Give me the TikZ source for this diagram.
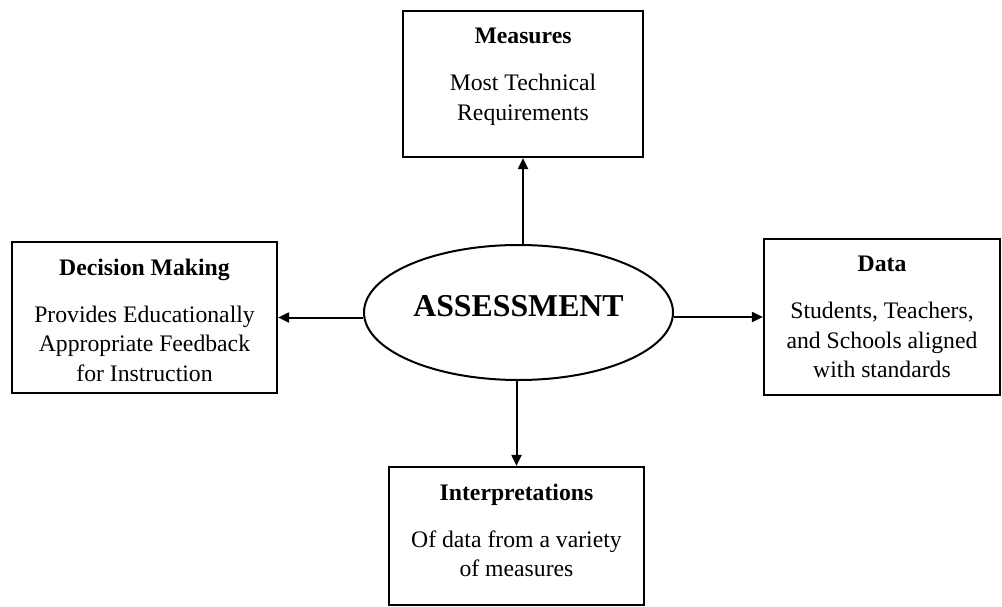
\documentclass[tikz,border=0pt]{standalone}
\usepackage{fontspec}
\setmainfont{Liberation Serif}
\usetikzlibrary{shapes.geometric,arrows.meta}
\newcommand{\boxtext}[3]{\begin{minipage}[c][#2][t]{#1}\centering\vspace{17pt}#3\end{minipage}}
\begin{document}
\begin{tikzpicture}[x=1pt,y=-1pt,
  box/.style={draw,line width=2.2pt,inner sep=0pt,font=\fontsize{23.7}{29.5}\selectfont},
  arr/.style={-{Triangle[length=11pt,width=10pt]},line width=2pt}]
  \useasboundingbox (0,0) rectangle (1002,607);
  % centre
  \node[draw,ellipse,line width=2pt,inner sep=0pt,minimum width=309pt,minimum height=135pt,
        text depth=14pt,font=\fontsize{31.8}{36}\selectfont\bfseries] (ell) at (518.5,312.5) {ASSESSMENT};
  % the four boxes
  \node[box] (meas) at (523,84) {\boxtext{240pt}{146pt}{\textbf{Measures}\\[17.5pt]Most Technical\\Requirements}};
  \node[box] (dec) at (144.5,317.5) {\boxtext{265pt}{151pt}{\textbf{Decision Making}\\[17.5pt]Provides Educationally\\Appropriate Feedback\\for Instruction}};
  \node[box] (data) at (882,317) {\boxtext{236pt}{156pt}{\textbf{Data}\\[17.5pt]Students, Teachers,\\and Schools aligned\\with standards}};
  \node[box] (interp) at (516.5,536) {\boxtext{255pt}{138pt}{\textbf{Interpretations}\\[17.5pt]Of data from a variety\\of measures}};
  % arrows
  \draw[arr] (ell.north -| meas.south) -- (meas.south);
  \draw[arr] (ell.west |- dec.east) -- (dec.east);
  \draw[arr] (ell.east |- data.west) -- (data.west);
  \draw[arr] (ell.south -| interp.north) -- (interp.north);
\end{tikzpicture}
\end{document}
